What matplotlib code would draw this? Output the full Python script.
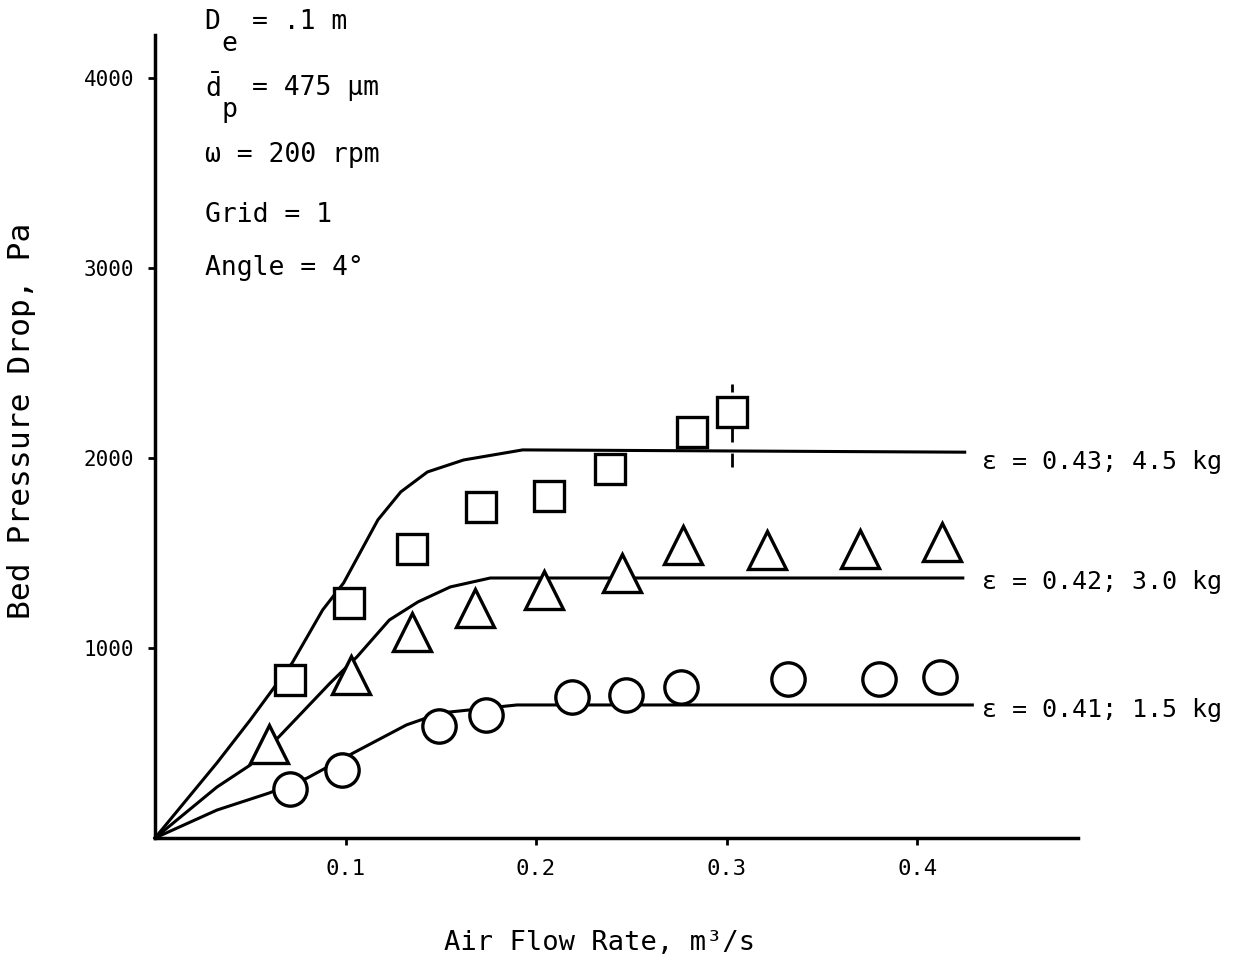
import matplotlib
matplotlib.use('Agg')
import matplotlib.pyplot as plt

# ── data ────────────────────────────────────────────────────────────────
# measured points (air flow m3/s, bed pressure drop Pa)
sq_x = [0.071, 0.102, 0.135, 0.171, 0.207, 0.239, 0.282, 0.303]
sq_y = [832, 1237, 1521, 1742, 1800, 1942, 2137, 2242]

tri_x = [0.060, 0.103, 0.135, 0.168, 0.204, 0.245, 0.277, 0.321, 0.370, 0.413]
tri_y = [492, 858, 1084, 1211, 1305, 1395, 1539, 1516, 1518, 1558]

circ_x = [0.071, 0.098, 0.149, 0.174, 0.219, 0.247, 0.276, 0.332, 0.380, 0.412]
circ_y = [258, 358, 589, 647, 742, 753, 795, 837, 837, 847]

# error bar on the last square
err_x = 0.303
err_lo, err_hi = 1950, 2390

# fitted curves
c43_x = [0, 0.0325, 0.050, 0.072, 0.088, 0.099, 0.117, 0.129, 0.143, 0.162, 0.193, 0.425]
c43_y = [0, 395, 621, 921, 1200, 1342, 1674, 1821, 1926, 1989, 2042, 2030]

c42_x = [0, 0.0325, 0.050, 0.065, 0.092, 0.106, 0.123, 0.138, 0.155, 0.176, 0.424]
c42_y = [0, 268, 384, 532, 816, 953, 1147, 1242, 1321, 1368, 1368]

c41_x = [0, 0.0325, 0.060, 0.080, 0.104, 0.132, 0.150, 0.190, 0.429]
c41_y = [0, 147, 237, 316, 447, 595, 658, 700, 700]

curve_labels = ['ε = 0.43; 4.5 kg', 'ε = 0.42; 3.0 kg', 'ε = 0.41; 1.5 kg']
label_y = [1979, 1347, 674]

# operating conditions: (main symbol, subscript, rest of line)
cond_main = ['D', r'$\bar{\mathrm{d}}$', 'ω', 'Grid', 'Angle']
cond_sub = ['e', 'p', '', '', '']
cond_rest = ['= .1 m', '= 475 μm', '= 200 rpm', '= 1', '= 4°']
cond_y = [4295, 3947, 3595, 3279, 3000]

xticks = [0.1, 0.2, 0.3, 0.4]
yticks = [1000, 2000, 3000, 4000]

# ── style ───────────────────────────────────────────────────────────────
MONO = 'DejaVu Sans Mono'
plt.rcParams['font.family'] = [MONO, 'DejaVu Sans']
plt.rcParams['mathtext.fontset'] = 'custom'
plt.rcParams['mathtext.rm'] = MONO
plt.rcParams['mathtext.it'] = MONO

fig = plt.figure(figsize=(12.4, 9.64), dpi=100)
ax = fig.add_axes([0.125, 0.1307, 0.7444, 0.833])

lw = 2.2
for cx, cy in [(c43_x, c43_y), (c42_x, c42_y), (c41_x, c41_y)]:
    ax.plot(cx, cy, color='black', lw=lw, zorder=2, clip_on=False)

ax.vlines(err_x, err_lo, err_hi, colors='black', lw=2, linestyles=(0, (5, 4)), zorder=1)

mk = dict(ls='none', mfc='white', mec='black', mew=2.4, zorder=3, clip_on=False)
ax.plot(sq_x, sq_y, marker='s', ms=21, **mk)
ax.plot(tri_x, tri_y, marker='^', ms=27, **mk)
ax.plot(circ_x, circ_y, marker='o', ms=24, **mk)

for txt, yy in zip(curve_labels, label_y):
    ax.text(0.434, yy, txt, fontsize=18, va='center', ha='left')

# condition block, subscripts drawn nearly full size and dropped like a typewriter
fs = 19
x0 = 0.026
for m, sb, rest, yy in zip(cond_main, cond_sub, cond_rest, cond_y):
    if sb:
        ax.text(x0, yy, m, fontsize=fs, va='center', ha='left', clip_on=False)
        ax.annotate(sb, xy=(x0, yy), xytext=(12, -16), textcoords='offset points',
                    fontsize=fs, va='center', ha='left', annotation_clip=False)
        ax.annotate(rest, xy=(x0, yy), xytext=(34, 0), textcoords='offset points',
                    fontsize=fs, va='center', ha='left', annotation_clip=False)
    else:
        ax.text(x0, yy, m + ' ' + rest, fontsize=fs, va='center', ha='left',
                clip_on=False)

ax.set_xlim(0, 0.4845)
ax.set_ylim(0, 4225)
ax.set_xticks(xticks)
ax.set_xticklabels([f'{t:.1f}' for t in xticks], fontsize=16)
ax.set_yticks(yticks)
ax.set_yticklabels([str(t) for t in yticks], fontsize=15)

for s in ['top', 'right']:
    ax.spines[s].set_visible(False)
for s in ['left', 'bottom']:
    ax.spines[s].set_linewidth(2.5)
ax.tick_params(direction='out', length=5, width=2, pad=10)

fig.text(22 / 1240, 1 - 421 / 964, 'Bed Pressure Drop, Pa', rotation=90,
         ha='center', va='center', fontsize=22.5)
fig.text(600 / 1240, 1 - 943 / 964, 'Air Flow Rate, m³/s',
         ha='center', va='center', fontsize=19.5)

fig.savefig('out.png', dpi=100)
